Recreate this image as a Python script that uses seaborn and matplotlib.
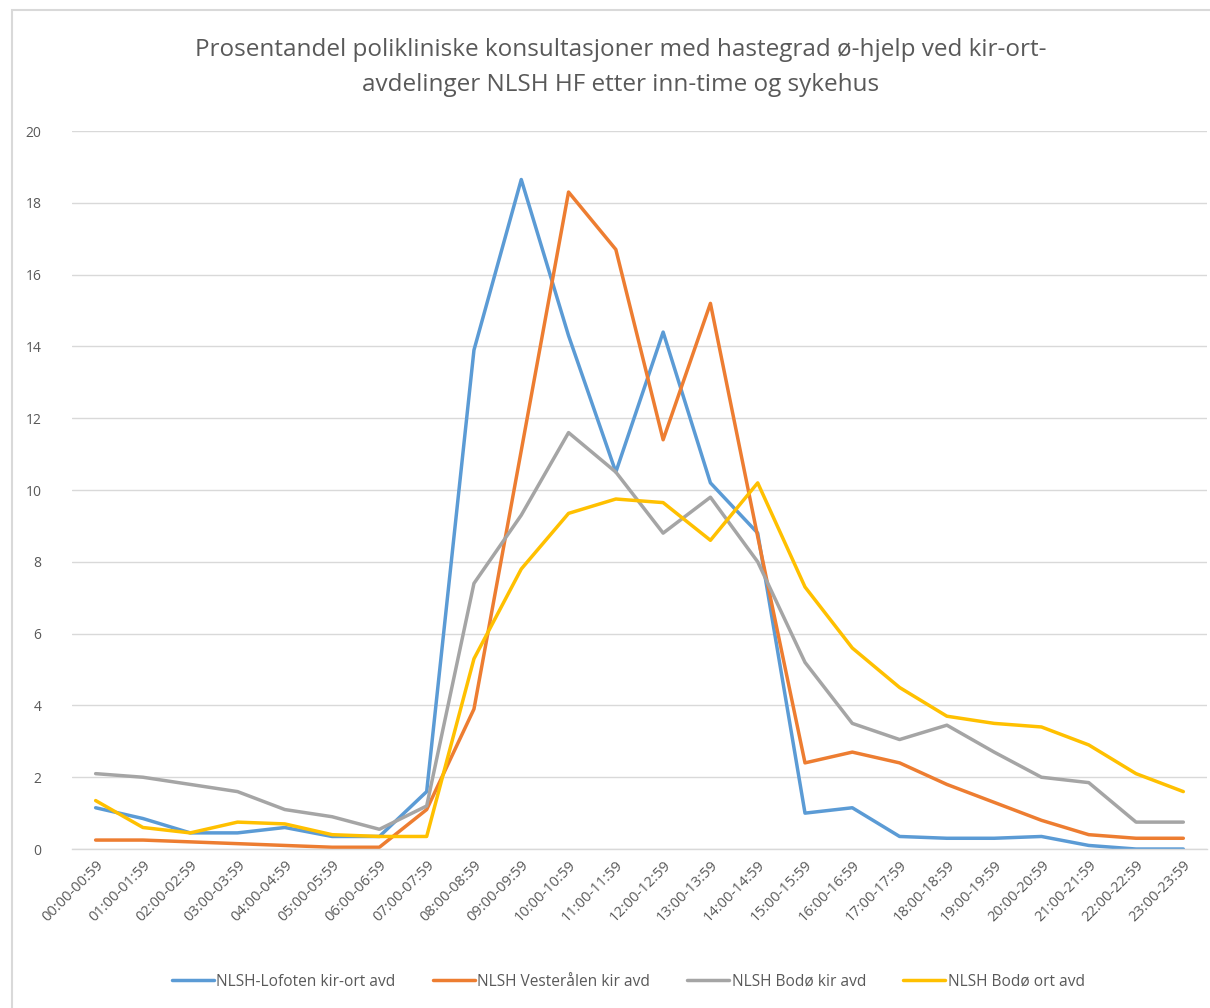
import pandas as pd
import matplotlib.pyplot as plt
import seaborn as sns
from matplotlib.patches import Rectangle

# --- Data ---
hours = [f"{h:02d}:00-{h:02d}:59" for h in range(24)]

lofoten = [1.15, 0.85, 0.45, 0.45, 0.6, 0.35, 0.35, 1.6, 13.9, 18.65, 14.3, 10.5,
           14.4, 10.2, 8.8, 1.0, 1.15, 0.35, 0.3, 0.3, 0.35, 0.1, 0.0, 0.0]
vesteralen = [0.25, 0.25, 0.2, 0.15, 0.1, 0.05, 0.05, 1.1, 3.9, 11.1, 18.3, 16.7,
              11.4, 15.2, 8.7, 2.4, 2.7, 2.4, 1.8, 1.3, 0.8, 0.4, 0.3, 0.3]
bodo_kir = [2.1, 2.0, 1.8, 1.6, 1.1, 0.9, 0.55, 1.2, 7.4, 9.3, 11.6, 10.5,
            8.8, 9.8, 8.0, 5.2, 3.5, 3.05, 3.45, 2.7, 2.0, 1.85, 0.75, 0.75]
bodo_ort = [1.35, 0.6, 0.45, 0.75, 0.7, 0.4, 0.35, 0.35, 5.3, 7.8, 9.35, 9.75,
            9.65, 8.6, 10.2, 7.3, 5.6, 4.5, 3.7, 3.5, 3.4, 2.9, 2.1, 1.6]

series_names = ["NLSH-Lofoten kir-ort avd", "NLSH Vesterålen kir avd",
                "NLSH Bodø kir avd", "NLSH Bodø ort avd"]
colors = ["#5B9BD5", "#ED7D31", "#A5A5A5", "#FFC000"]

frames = []
for name, vals in zip(series_names, [lofoten, vesteralen, bodo_kir, bodo_ort]):
    frames.append(pd.DataFrame({'idx': range(len(hours)), 'value': vals, 'series': name}))
df = pd.concat(frames, ignore_index=True)

# --- Styling ---
sns.set_style("white")
plt.rcParams['font.family'] = ['Open Sans', 'DejaVu Sans']
text_color = '#595959'

fig = plt.figure(figsize=(12.1, 10.08), dpi=100)
ax = fig.add_axes([0.0595, 0.1577, 0.938, 0.7123])

sns.lineplot(data=df, x='idx', y='value', hue='series', hue_order=series_names,
             palette=colors, linewidth=2.5, ax=ax, legend=True)

ax.set_xlim(-0.5, 23.5)
ax.set_ylim(0, 20)
ax.set_yticks(range(0, 21, 2))
ax.set_xticks(range(len(hours)))
ax.set_xticklabels(hours, rotation=45, ha='right', rotation_mode='anchor',
                   fontsize=10.5, color=text_color)
ax.tick_params(axis='y', labelsize=10, labelcolor=text_color, length=0, pad=22)
ax.tick_params(axis='x', length=0, pad=6)
ax.set_xlabel('')
ax.set_ylabel('')
ax.grid(axis='y', color='#d9d9d9', linewidth=1)
ax.set_axisbelow(True)
for side in ['top', 'right', 'left']:
    ax.spines[side].set_visible(False)
ax.spines['bottom'].set_color('#d9d9d9')
ax.spines['bottom'].set_linewidth(1)

fig.text(0.513, 0.933,
         "Prosentandel polikliniske konsultasjoner med hastegrad ø-hjelp ved kir-ort-\navdelinger NLSH HF etter inn-time og sykehus",
         ha='center', va='center', fontsize=17.5, color=text_color, linespacing=1.6)

leg = ax.legend(loc='center', bbox_to_anchor=(0.49, -0.185), ncol=4, frameon=False,
                fontsize=11.2, handlelength=2.7, handletextpad=0.15, columnspacing=2.4)
for t in leg.get_texts():
    t.set_color(text_color)

# chart area border
fig.patches.append(Rectangle((0.010, -0.01), 1.0, 1.0, transform=fig.transFigure,
                             fill=False, edgecolor='#d9d9d9', linewidth=1.5))

fig.savefig('out.png', dpi=100)
